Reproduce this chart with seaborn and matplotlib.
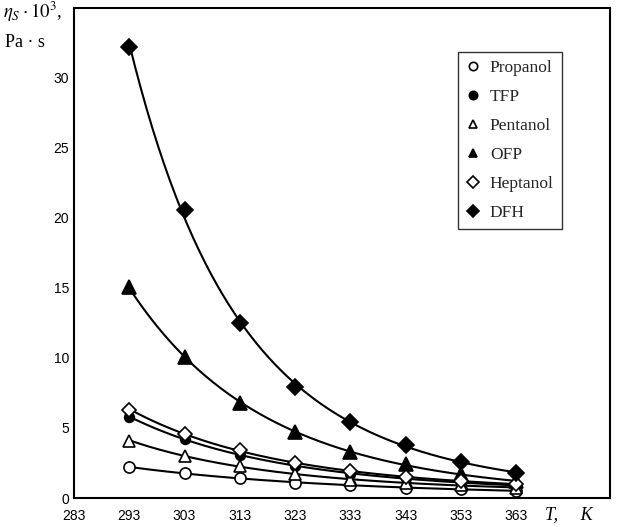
import numpy as np
import pandas as pd
import matplotlib
matplotlib.use("Agg")
import matplotlib.pyplot as plt
import seaborn as sns

sns.set_theme(style="white")
plt.rcParams["font.family"] = ["Liberation Sans", "DejaVu Sans"]
plt.rcParams["mathtext.fontset"] = "stix"

T = [293, 303, 313, 323, 333, 343, 353, 363]
propanol = [2.2, 1.8, 1.4, 1.1, 0.9, 0.75, 0.65, 0.5]
tfp = [5.8, 4.2, 3.1, 2.3, 1.75, 1.4, 1.1, 0.9]
pentanol = [4.1, 3.0, 2.3, 1.7, 1.3, 1.1, 0.9, 0.75]
ofp = [15.1, 10.1, 6.8, 4.7, 3.3, 2.4, 1.7, 1.2]
heptanol = [6.3, 4.6, 3.4, 2.5, 1.95, 1.5, 1.2, 1.0]
dfh = [32.2, 20.6, 12.5, 7.9, 5.4, 3.8, 2.6, 1.8]

names = ["Propanol", "TFP", "Pentanol", "OFP", "Heptanol", "DFH"]
series = [propanol, tfp, pentanol, ofp, heptanol, dfh]
markers = ["o", "o", "^", "^", "D", "D"]
filled = [False, True, False, True, False, True]
msizes = [8, 7, 8, 9.5, 7, 8]

x_ticks = [283, 293, 303, 313, 323, 333, 343, 353, 363]
y_ticks = [0, 5, 10, 15, 20, 25, 30]

fig = plt.figure(figsize=(6.24, 5.27), dpi=100)
ax = fig.add_axes([0.1186, 0.055, 0.859, 0.930])

rows = []
for n, s in zip(names, series):
    for t, v in zip(T, s):
        rows.append({"T": t, "eta": v, "name": n})
df = pd.DataFrame(rows)

# smooth fitted curves (log-quadratic fit of each series)
for n, s in zip(names, series):
    coef = np.polyfit(T, np.log(s), 2)
    tt = np.linspace(T[0], T[-1], 200)
    fit = pd.DataFrame({"T": tt, "eta": np.exp(np.polyval(coef, tt))})
    sns.lineplot(data=fit, x="T", y="eta", ax=ax, color="black", lw=1.5, legend=False)

handles = []
for n, s, m, f, ms in zip(names, series, markers, filled, msizes):
    sub = df[df["name"] == n]
    fc = "black" if f else "white"
    ax.plot(sub["T"], sub["eta"], linestyle="none", marker=m, markersize=ms,
            markerfacecolor=fc, markeredgecolor="black", markeredgewidth=1.2, zorder=5)
    h, = ax.plot([], [], linestyle="none", marker=m, markersize=6,
                 markerfacecolor=fc, markeredgecolor="black", markeredgewidth=1.2, label=n)
    handles.append(h)

ax.set_xlim(283, 380)
ax.set_ylim(0, 35)
ax.set_xticks(x_ticks)
ax.set_yticks(y_ticks)
ax.set_yticks(np.arange(0, 36, 1), minor=True)
ax.tick_params(axis="both", which="both", direction="in", color="black", labelsize=10, labelcolor="black")
ax.tick_params(axis="both", which="major", length=5, width=1)
ax.tick_params(axis="y", which="minor", length=3, width=1)
ax.tick_params(axis="x", pad=8)
ax.set_xlabel("")
ax.set_ylabel("")
for sp in ax.spines.values():
    sp.set_color("black")
    sp.set_linewidth(1.5)

leg = ax.legend(handles=handles, loc="upper left", bbox_to_anchor=(0.716, 0.910),
                borderaxespad=0, frameon=True, fancybox=False, handlelength=0.8,
                handletextpad=0.6, labelspacing=0.74, borderpad=0.45,
                prop={"family": "Liberation Serif", "size": 12.5})
leg.get_frame().set_edgecolor("black")
leg.get_frame().set_linewidth(1.0)

fig.text(0.005, 0.955, r"$\eta_S\cdot10^3$,", fontsize=13.5, ha="left", va="bottom",
         family="Liberation Serif", color="black")
fig.text(0.008, 0.903, "Pa · s", fontsize=13, ha="left", va="bottom",
         family="Liberation Serif", color="black")
fig.text(0.873, 0.008, "T,     K", fontsize=13, ha="left", va="bottom",
         family="Liberation Serif", style="italic", color="black")

fig.savefig("out.png", dpi=100)
